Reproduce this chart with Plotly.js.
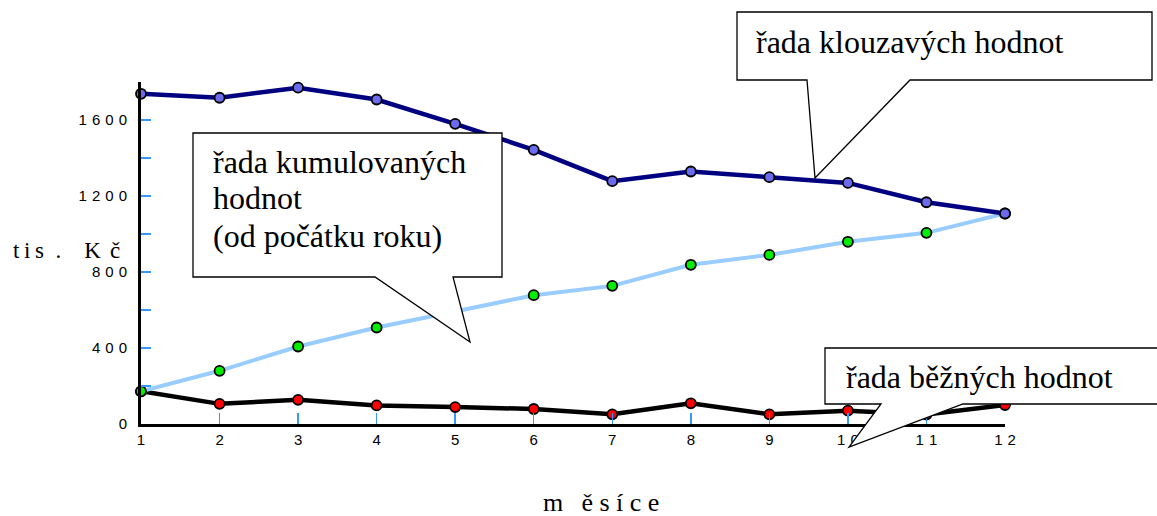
<!DOCTYPE html>
<html>
<head>
<meta charset="utf-8">
<script src="https://cdn.plot.ly/plotly-3.0.1.min.js"></script>
<style>html,body{margin:0;padding:0;background:#fff;}</style>
</head>
<body>
<div id="chart" style="width:1157px;height:516px;"></div>
<script>
// ---- data ----
const months = [1, 2, 3, 4, 5, 6, 7, 8, 9, 10, 11, 12];
const monthLabels = ['1', '2', '3', '4', '5', '6', '7', '8', '9', '1\u20040', '1\u20041', '1\u20042'];
const bezneHodnoty = [172, 106, 127, 98, 89, 79, 51, 109, 51, 70, 50, 100];
const kumulovaneHodnoty = [172, 280, 408, 508, 592, 678, 727, 838, 890, 959, 1006, 1108];
const klouzaveHodnoty = [1738, 1717, 1770, 1708, 1580, 1443, 1278, 1329, 1299, 1269, 1167, 1108];
const yTickVals = [0, 200, 400, 600, 800, 1000, 1200, 1400, 1600, 1800];
const yTickText = ['0', '', '4\u20040\u20040', '', '8\u20040\u20040', '', '1\u20042\u20040\u20040', '', '1\u20046\u20040\u20040', ''];
const yTitle = 't\u2009i\u2009s\u2002.\u2003K\u2009\u2009č';
const xTitle = 'm\u2002\u2009ě\u00a0s\u00a0í\u00a0c\u00a0e';
const calloutKlouzave = ['řada klouzavých hodnot'];
const calloutKumulovane = ['řada kumulovaných', 'hodnot', '(od počátku roku)'];
const calloutBezne = ['řada běžných hodnot'];

// ---- layout geometry (pixels) ----
const W = 1157, H = 516;
const M = {l: 141, r: 152, t: 82, b: 92};
const PW = W - M.l - M.r, PH = H - M.t - M.b;
const px = x => (x - M.l) / PW;
const py = y => (H - M.b - y) / PH;
function pathFrom(points) {
  return 'M' + points.map(p => px(p[0]).toFixed(5) + ',' + py(p[1]).toFixed(5)).join(' L') + ' Z';
}
function callout(points) {
  return {type: 'path', xref: 'paper', yref: 'paper', path: pathFrom(points),
          fillcolor: '#ffffff', line: {color: '#000000', width: 1.3}, layer: 'above'};
}
function label(text, x, y, size, anchor) {
  return {xref: 'paper', yref: 'paper', x: px(x), y: py(y), text: text, showarrow: false,
          xanchor: anchor || 'left', yanchor: 'middle',
          font: {family: 'Liberation Serif, Times New Roman, serif', size: size, color: '#000'}};
}

const serieMarker = (fill) => ({symbol: 'circle', size: 10, color: fill, line: {color: '#000', width: 1.8}});

const traces = [
  {x: months, y: bezneHodnoty, type: 'scatter', mode: 'lines+markers', name: 'řada běžných hodnot',
   line: {color: '#000000', width: 4.5}, marker: serieMarker('#ff0000'), cliponaxis: false},
  {x: months, y: kumulovaneHodnoty, type: 'scatter', mode: 'lines+markers', name: 'řada kumulovaných hodnot',
   line: {color: '#99ccff', width: 4}, marker: serieMarker('#00ee00'), cliponaxis: false},
  {x: months, y: klouzaveHodnoty, type: 'scatter', mode: 'lines+markers', name: 'řada klouzavých hodnot',
   line: {color: '#000080', width: 4.5}, marker: serieMarker('#6b6bf0'), cliponaxis: false}
];

const tickFont = {family: 'Liberation Sans, Arial, sans-serif', size: 15, color: '#000'};

const layout = {
  width: W, height: H,
  margin: M,
  paper_bgcolor: '#fff', plot_bgcolor: '#fff',
  showlegend: false,
  xaxis: {
    range: [1, 12], tickmode: 'array', tickvals: months, ticktext: monthLabels,
    ticks: 'inside', ticklen: 11, tickwidth: 1.5, tickcolor: '#3399ff',
    showline: true, linecolor: '#000', linewidth: 3, showgrid: false, zeroline: false,
    tickfont: tickFont, ticklabelstandoff: 0
  },
  yaxis: {
    range: [0, 1800], tickmode: 'array', tickvals: yTickVals, ticktext: yTickText,
    ticks: 'inside', ticklen: 10, tickwidth: 1.5, tickcolor: '#3399ff',
    showline: true, linecolor: '#000', linewidth: 3, showgrid: false, zeroline: false,
    tickfont: tickFont, ticklabelstandoff: 8
  },
  shapes: [
    callout([[737, 12], [1152, 12], [1152, 80], [910, 80], [815, 178], [807, 80], [737, 80]]),
    callout([[193, 133], [502, 133], [502, 277], [453, 277], [470, 342], [375, 277], [193, 277]]),
    callout([[825, 348], [1160, 348], [1160, 404], [963, 404], [849, 447], [881, 404], [825, 404]])
  ],
  annotations: [
    label(calloutKlouzave[0], 754, 42, 32),
    label(calloutKumulovane[0], 211, 162, 32),
    label(calloutKumulovane[1], 211, 198, 32),
    label(calloutKumulovane[2], 211, 236, 32),
    label(calloutBezne[0], 844, 377, 32),
    label(yTitle, 11, 250, 23),
    label(xTitle, 601, 502, 26, 'center')
  ]
};

Plotly.newPlot('chart', traces, layout, {displayModeBar: false, staticPlot: true});
</script>
</body>
</html>
